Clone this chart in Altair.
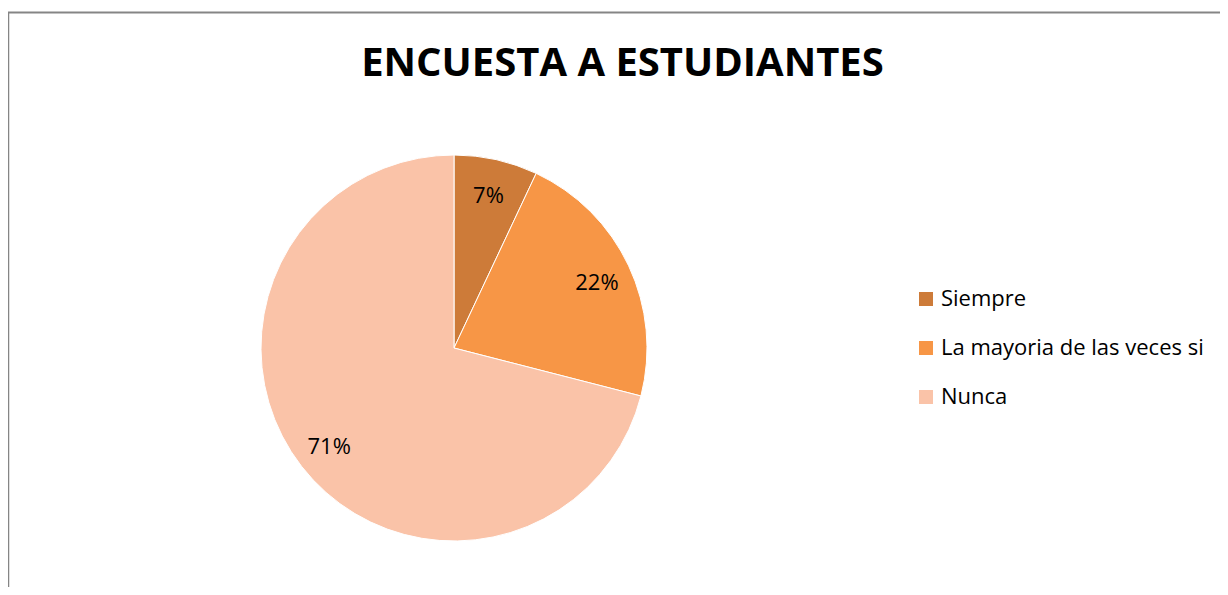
import altair as alt
import pandas as pd

title_text = "ENCUESTA A ESTUDIANTES"
categories = ["Siempre", "La mayoria de las veces si", "Nunca"]
values = [7, 22, 71]
labels = ["7%", "22%", "71%"]
colors = ["#CD7B39", "#F79646", "#FAC3A8"]

df = pd.DataFrame({
    "cat": categories,
    "value": values,
    "label": labels,
    "idx": list(range(len(categories))),
})

W, H = 1212, 579
CX, CY, R = 446, 340, 193
FONT = "Open Sans"

base = alt.Chart(df).encode(
    theta=alt.Theta("value:Q", stack=True),
    order=alt.Order("idx:Q"),
    x=alt.value(CX),
    y=alt.value(CY),
)

arcs = base.mark_arc(radius=R, stroke="white", strokeWidth=1).encode(
    color=alt.Color(
        "cat:N",
        scale=alt.Scale(domain=categories, range=colors),
        sort=categories,
        legend=alt.Legend(
            title=None,
            orient="none",
            legendX=907,
            legendY=280,
            symbolType="square",
            symbolSize=196,
            symbolStrokeWidth=0,
            labelFontSize=22,
            labelFont=FONT,
            labelColor="#000000",
            labelOffset=4,
            rowPadding=27,
            labelLimit=400,
        ),
    )
)

texts = base.mark_text(radius=158, fontSize=22, font=FONT, color="#000000", dy=2).encode(
    text="label:N"
)

title = alt.Chart(pd.DataFrame({"t": [title_text]})).mark_text(
    fontSize=40, fontWeight="bold", font=FONT, color="#000000", baseline="middle", align="center"
).encode(text="t:N", x=alt.value(614.5), y=alt.value(56))

frame_df = pd.DataFrame({"a": [0]})
left_line = alt.Chart(frame_df).mark_rule(color="#858585", strokeWidth=2.5).encode(
    x=alt.value(0), y=alt.value(4), y2=alt.value(H)
)
top_line = alt.Chart(frame_df).mark_rule(color="#858585", strokeWidth=2).encode(
    x=alt.value(0), x2=alt.value(W), y=alt.value(4.5)
)

chart = alt.layer(left_line, top_line, arcs, texts, title).properties(
    width=W,
    height=H,
    padding=0,
    autosize=alt.AutoSizeParams(type="none"),
).configure_view(strokeWidth=0)

chart.save("out.html", embed_options={"renderer": "svg", "actions": False})
